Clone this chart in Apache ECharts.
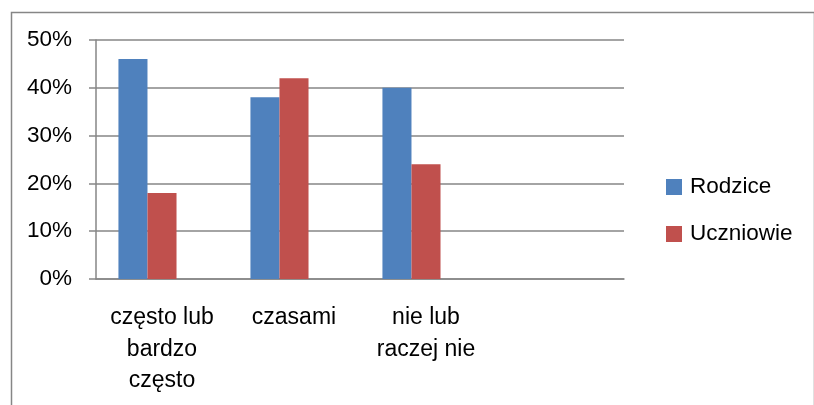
<!DOCTYPE html>
<html>
<head>
<meta charset="utf-8">
<script src="https://cdn.jsdelivr.net/npm/echarts@6/dist/echarts.min.js"></script>
<style>
  html, body { margin: 0; padding: 0; background: #fff; }
  #chart { width: 814px; height: 405px; }
</style>
</head>
<body>
<div id="chart"></div>
<script>
// categories (the last one is empty in the source sheet)
const categories = ['często lub\nbardzo\nczęsto', 'czasami', 'nie lub\nraczej nie', '']
const rodzice = [46, 38, 40, null]
const uczniowie = [18, 42, 24, null]
// third, empty series from the sheet: keeps the bars shifted left in each group
const empty = [null, null, null, null]
const yTicks = { min: 0, max: 50, interval: 10 }

const font = "'Liberation Sans', Arial, sans-serif"
const grey = '#868686'

const chart = echarts.init(document.getElementById('chart'))

chart.setOption({
  animation: false,
  textStyle: { fontFamily: font, color: '#000' },
  graphic: [
    {
      type: 'rect',
      left: 9,
      top: 10,
      shape: { width: 803, height: 420 },
      style: { fill: 'none', stroke: grey, lineWidth: 1.5 },
      silent: true
    }
  ],
  grid: { left: 96, top: 40, right: 190, bottom: 126 },
  legend: {
    data: ['Rodzice', 'Uczniowie'],
    orient: 'vertical',
    left: 666,
    top: 175,
    padding: 0,
    itemWidth: 16,
    itemHeight: 16,
    itemGap: 23,
    icon: 'rect',
    textStyle: { fontFamily: font, fontSize: 22.5, lineHeight: 24, color: '#000', padding: [0, 0, 0, 3] }
  },
  xAxis: {
    type: 'category',
    data: categories,
    axisLine: { lineStyle: { color: grey, width: 1.5 } },
    axisTick: { length: 7, lineStyle: { color: grey, width: 1.5 } },
    axisLabel: {
      interval: 0,
      margin: 23,
      fontSize: 23,
      lineHeight: 31.5,
      color: '#000',
      fontFamily: font
    }
  },
  yAxis: {
    type: 'value',
    min: yTicks.min,
    max: yTicks.max,
    interval: yTicks.interval,
    axisLine: { show: true, lineStyle: { color: grey, width: 1.5 } },
    axisTick: { show: true, length: 7, lineStyle: { color: grey, width: 1.5 } },
    splitLine: { lineStyle: { color: grey, width: 1.5 } },
    axisLabel: {
      formatter: '{value}%',
      margin: 24,
      fontSize: 22.5,
      color: '#000',
      fontFamily: font
    }
  },
  series: [
    {
      name: 'Rodzice',
      type: 'bar',
      data: rodzice,
      barGap: '0%',
      barCategoryGap: '34%',
      itemStyle: { color: '#4F81BD' }
    },
    {
      name: 'Uczniowie',
      type: 'bar',
      data: uczniowie,
      itemStyle: { color: '#C0504D' }
    },
    {
      name: 'Seria3',
      type: 'bar',
      data: empty,
      itemStyle: { color: '#9BBB59' }
    }
  ]
})
</script>
</body>
</html>
